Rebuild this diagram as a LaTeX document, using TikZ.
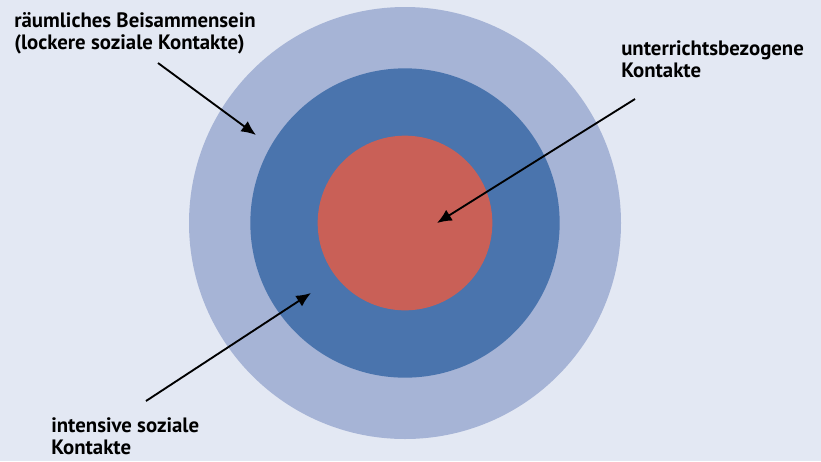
\documentclass[tikz,border=0pt]{standalone}
\usepackage{fontspec}
\setmainfont{PT Sans}
\usepackage{tikz}
\usetikzlibrary{arrows.meta,positioning}

\definecolor{bgcol}{RGB}{227,232,243}
\definecolor{outercol}{RGB}{166,180,214}
\definecolor{middlecol}{RGB}{74,116,173}
\definecolor{innercol}{RGB}{201,96,87}

\tikzset{
	ring/.style={circle,draw=none,inner sep=0pt},
	lbl/.style={anchor=north west,inner sep=0pt,align=left,
		font=\bfseries\fontsize{15.6}{16.8}\selectfont},
	pointer/.style={-{Latex[length=11pt,width=9.5pt]},line width=1.4pt}
}

\begin{document}
\begin{tikzpicture}[x=0.75pt,y=-0.75pt]
	\fill[bgcol] (0,0) rectangle (821,461);
	\useasboundingbox (0,0) rectangle (821,461);
	% rings
	\node[ring,fill=outercol,minimum size=324pt](outer) at (405,223){};
	\node[ring,fill=middlecol,minimum size=232pt](middle) at (outer.center){};
	\node[ring,fill=innercol,minimum size=131pt](inner) at (outer.center){};
	% labels
	\node[lbl](raum) at (14,12){räumliches Beisammensein\\(lockere soziale Kontakte)};
	\node[lbl](unter) at (621,40){unterrichtsbezogene\\Kontakte};
	\node[lbl](intens) at (51,417){intensive soziale\\Kontakte};
	% arrows
	\coordinate (raumstart) at (158,63);
	\coordinate (raumtip) at (256,135);
	\coordinate (unterstart) at (635,99);
	\coordinate (untertip) at (437,223);
	\coordinate (intensstart) at (146,401);
	\coordinate (intenstip) at (311,293);
	\draw[pointer](raumstart) -- (raumtip);
	\draw[pointer](unterstart) -- (untertip);
	\draw[pointer](intensstart) -- (intenstip);
\end{tikzpicture}
\end{document}
